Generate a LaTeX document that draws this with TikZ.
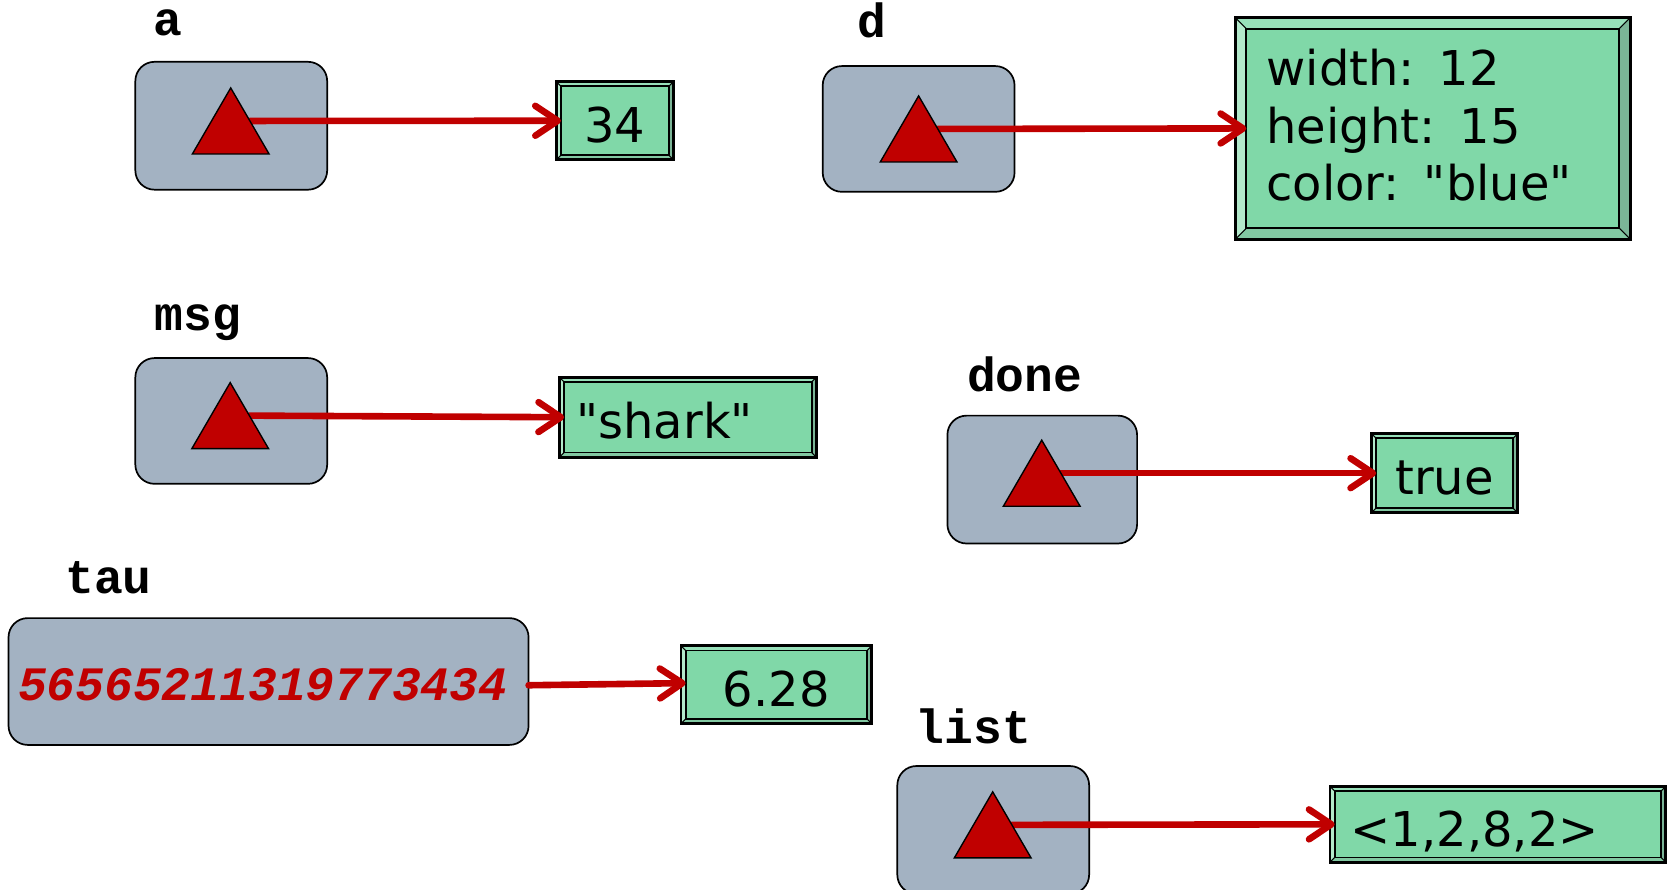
\documentclass[tikz,border=0pt]{standalone}
\usepackage{fontspec}
\setmainfont{DejaVu Sans}
\setmonofont{Liberation Mono}
\usetikzlibrary{arrows.meta,calc}

\definecolor{ptrgray}{HTML}{A3B2C2}
\definecolor{ptrred}{HTML}{C00000}
\definecolor{valgreen}{HTML}{80D8A8}
\definecolor{bevtop}{HTML}{98E0BA}
\definecolor{bevleft}{HTML}{B3E9CB}
\definecolor{bevright}{HTML}{7BB597}
\definecolor{bevbottom}{HTML}{82C8A2}

\newcommand\valfont{\fontsize{22.5pt}{26.75pt}\selectfont}
\newcommand\namefont{\fontsize{22.5pt}{26pt}\selectfont\ttfamily\bfseries}
\newcommand\dq{\textquotedbl}

\tikzset{
  varbox/.style={draw=black, line width=0.8pt, fill=ptrgray, rounded corners=9pt,
    inner sep=0pt, outer sep=0pt},
  valbox/.style={fill=valgreen, inner sep=0pt, outer sep=0pt, font=\valfont},
  oneline/.style={text height=22pt, text depth=1.6pt},
  ptrtri/.style={draw=black, line width=0.65pt, fill=ptrred, line join=miter},
  ptrarrow/.style={draw=ptrred, line width=3.1pt, line cap=round,
    -{Straight Barb[length=10.5pt,width=14pt,line cap=round,line join=round]}},
  varname/.style={anchor=base west, inner sep=0pt, font=\namefont},
}

% beveled frame round a value node: #1 node name, #2 bevel size
\newcommand\valframe[2]{%
  \fill[bevtop] (#1.north west) -- (#1.north east) -- ([shift={(-#2,#2)}]#1.north east)
    -- ([shift={(#2,#2)}]#1.north west) -- cycle;
  \fill[bevleft] (#1.north west) -- ([shift={(#2,#2)}]#1.north west)
    -- ([shift={(#2,-#2)}]#1.south west) -- (#1.south west) -- cycle;
  \fill[bevright] (#1.north east) -- ([shift={(-#2,#2)}]#1.north east)
    -- ([shift={(-#2,-#2)}]#1.south east) -- (#1.south east) -- cycle;
  \fill[bevbottom] (#1.south west) -- ([shift={(#2,-#2)}]#1.south west)
    -- ([shift={(-#2,-#2)}]#1.south east) -- (#1.south east) -- cycle;
  \draw[line width=0.5pt] (#1.north west) -- ([shift={(#2,#2)}]#1.north west)
    (#1.north east) -- ([shift={(-#2,#2)}]#1.north east)
    (#1.south west) -- ([shift={(#2,-#2)}]#1.south west)
    (#1.south east) -- ([shift={(-#2,-#2)}]#1.south east);
  \draw[line width=0.9pt] ([shift={(#2,#2)}]#1.north west) rectangle ([shift={(-#2,-#2)}]#1.south east);
  \draw[line width=1.3pt] (#1.north west) rectangle (#1.south east);
}

% pointer triangle with apex at (#1,#2)
\newcommand\ptrtri[2]{%
  \draw[ptrtri] (#1,#2) -- ++(36,62) -- ++(-72,0) -- cycle;
}
% start of a pointer's arrow: midpoint of the triangle's right side
\newcommand\ptrstart[3]{\coordinate (#1) at ({#2+18},{#3+31});}

\begin{document}
\begin{tikzpicture}[x=0.5pt, y=-0.5pt]
  \useasboundingbox (0,0) rectangle (1568,835);
  \clip (0,0) rectangle (1568,835);

  % variable boxes
  \node[varbox, minimum width=90pt, minimum height=60pt] (a) at (217,118) {};
  \node[varbox, minimum width=90pt, minimum height=59pt] (d) at (862,121) {};
  \node[varbox, minimum width=90pt, minimum height=59pt] (msg) at (217,395) {};
  \node[varbox, minimum width=89pt, minimum height=60pt] (done) at (978,450) {};
  \node[varbox, minimum height=59.5pt, inner xsep=4.5pt, text width=235pt, align=left,
        text height=18pt, text depth=0.3pt,
        font=\namefont\itshape, text=ptrred] (tau) at (252,639.5) {56565211319773434};
  \node[varbox, minimum width=90pt, minimum height=60pt] (list) at (932,778.8) {};

  % value boxes
  \node[valbox, oneline, minimum width=55pt, minimum height=36.7pt] (v34) at (577,113.3) {34};
  \valframe{v34}{4.4}
  \node[valbox, minimum height=104.15pt, inner xsep=14.75pt, text width=156pt, align=left]
        (vbig) at (1344.5,120.5) {width: 12\\height: 15\\color: \dq blue\dq\rule[-3.4pt]{0pt}{3.4pt}};
  \valframe{vbig}{10.5}
  \node[valbox, oneline, minimum height=37.5pt, inner xsep=8pt, text width=104.5pt, align=left]
        (vshark) at (645.5,391.5) {\dq shark\dq};
  \valframe{vshark}{4.4}
  \node[valbox, oneline, minimum width=68.5pt, minimum height=37pt] (vtrue) at (1355.5,444) {true};
  \valframe{vtrue}{4.4}
  \node[valbox, oneline, minimum width=89.5pt, minimum height=36.5pt] (v628) at (728.5,642.5) {6.28};
  \valframe{v628}{4.4}
  \node[valbox, oneline, minimum height=35.5pt, inner xsep=9.75pt, text width=138pt, align=left]
        (vlist) at (1405.5,773.5) {<1,2,8,2>};
  \valframe{vlist}{4.4}

  % arrow starts on the pointer triangles
  \ptrstart{pa}{216.5}{82.5}
  \ptrstart{pd}{862}{90}
  \ptrstart{pmsg}{216}{359}
  \ptrstart{pdone}{977.5}{413}
  \ptrstart{plist}{931.5}{743}

  % references
  \draw[ptrarrow] (pa) -- ([xshift=2.2pt]v34.west);
  \draw[ptrarrow] (pd) -- ([xshift=5.25pt]vbig.west);
  \draw[ptrarrow] (pmsg) -- ([xshift=2.2pt]vshark.west);
  \draw[ptrarrow] (pdone) -- ([xshift=2.2pt]vtrue.west);
  \draw[ptrarrow] ([yshift=-1.75pt]tau.east) -- ([xshift=2.2pt,yshift=0.75pt]v628.west);
  \draw[ptrarrow] (plist) -- ([xshift=2.2pt]vlist.west);

  % pointer triangles
  \ptrtri{216.5}{82.5}
  \ptrtri{862}{90}
  \ptrtri{216}{359}
  \ptrtri{977.5}{413}
  \ptrtri{931.5}{743}

  % variable names
  \node[varname] (na) at (144,33) {a};
  \node[varname] (nd) at (804,35) {d};
  \node[varname] (nmsg) at (145,310) {msg};
  \node[varname] (ndone) at (907,367) {done};
  \node[varname] (ntau) at (61,557) {tau};
  \node[varname] (nlist) at (859,698) {list};
\end{tikzpicture}
\end{document}
